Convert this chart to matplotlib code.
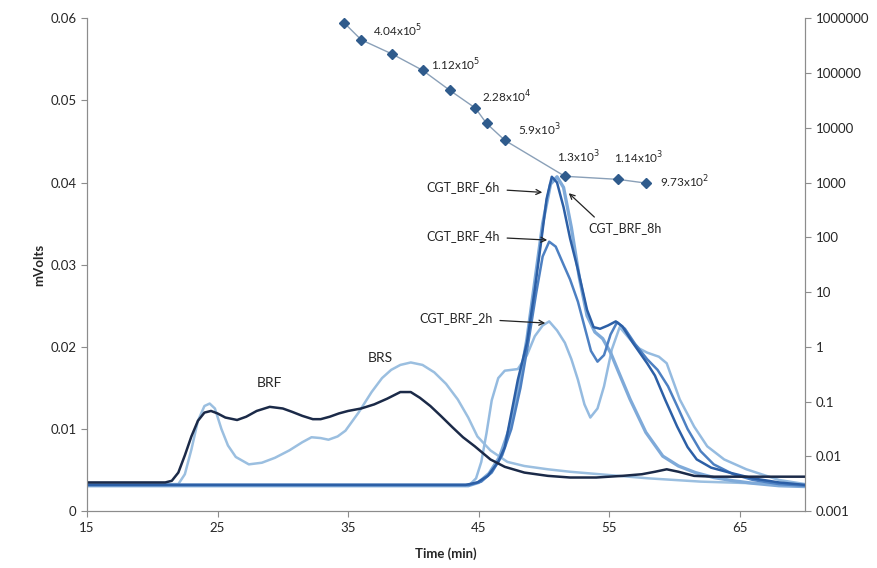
import matplotlib
matplotlib.use("Agg")
import matplotlib.pyplot as plt
from matplotlib.ticker import FixedLocator, FixedFormatter, NullLocator

plt.rcParams['font.family'] = ['Lato', 'DejaVu Sans']

# ---------------- data ----------------
brf_t = [15, 21, 21.5, 22, 22.5, 23, 23.5, 24, 24.5, 25, 25.6, 26.5, 27.2, 28, 29, 30, 30.7, 31.5,
         32.3, 32.9, 33.6, 34.3, 35, 36, 37, 38, 39, 39.8, 40.5, 41.3, 42.1, 43, 43.8, 44.7, 45.9,
         47, 48.5, 50.3, 52, 54, 56, 57.5, 58.5, 59.4, 60.3, 61.5, 63, 65, 67, 70]
brf_v = [0.0035, 0.0035, 0.0037, 0.0047, 0.0068, 0.0091, 0.0110, 0.0120, 0.0122, 0.0119, 0.0114,
         0.0111, 0.0115, 0.0122, 0.0127, 0.0125, 0.0121, 0.0116, 0.0112, 0.0112, 0.0115, 0.0119,
         0.0122, 0.0125, 0.0130, 0.0137, 0.0145, 0.0145, 0.0138, 0.0128, 0.0116, 0.0102, 0.0090,
         0.0079, 0.0063, 0.0054, 0.0047, 0.0043, 0.0041, 0.0041, 0.0043, 0.0045, 0.0048, 0.0051,
         0.0048, 0.0043, 0.0042, 0.0042, 0.0042, 0.0042]

brs_t = [15, 22, 22.5, 23, 23.5, 24, 24.4, 24.8, 25.3, 25.8, 26.4, 27.4, 28.4, 29.4, 30.5, 31.5,
         32.2, 32.9, 33.5, 34.2, 34.8, 35.8, 36.8, 37.6, 38.3, 39.0, 39.8, 40.7, 41.6, 42.5, 43.4,
         44.2, 44.9, 45.9, 47.2, 48.5, 50.3, 52, 55, 58, 62, 66, 70]
brs_v = [0.0033, 0.0033, 0.0045, 0.0075, 0.0110, 0.0128, 0.0131, 0.0125, 0.0100, 0.0080, 0.0066,
         0.0057, 0.0059, 0.0065, 0.0074, 0.0084, 0.0090, 0.0089, 0.0087, 0.0091, 0.0098, 0.0120,
         0.0145, 0.0162, 0.0172, 0.0178, 0.0181, 0.0178, 0.0169, 0.0155, 0.0136, 0.0114, 0.0091,
         0.0074, 0.0060, 0.0055, 0.0051, 0.0048, 0.0044, 0.0040, 0.0036, 0.0034, 0.0032]

h2_t = [15, 44.3, 44.8, 45.2, 45.6, 46.0, 46.5, 47, 48, 48.7, 49.3, 49.9, 50.4, 51.0, 51.6, 52.1,
        52.6, 53.1, 53.55, 54.1, 54.6, 55.2, 55.8, 56.6, 57.3, 57.9, 58.8, 59.4, 60.4, 61.5, 62.5,
        63.8, 65.5, 68, 70]
h2_v = [0.0032, 0.0032, 0.0040, 0.0060, 0.0095, 0.0135, 0.0162, 0.0171, 0.0173, 0.0190, 0.0213,
        0.0226, 0.0231, 0.0220, 0.0205, 0.0185, 0.0160, 0.0130, 0.0114, 0.0125, 0.0152, 0.0197,
        0.0224, 0.0209, 0.0198, 0.0193, 0.0188, 0.0180, 0.0136, 0.0103, 0.0079, 0.0063, 0.0051,
        0.0038, 0.0033]

h4_t = [15, 44.3, 45.2, 46, 46.8, 47.5, 48.2, 48.8, 49.4, 49.9, 50.4, 50.9, 51.5, 52, 52.6, 53.1,
        53.6, 54.1, 54.6, 55.1, 55.6, 56.2, 57, 57.9, 58.7, 59.5, 60.2, 61, 62, 63, 64.5, 66, 68, 70]
h4_v = [0.0032, 0.0032, 0.0036, 0.0047, 0.0068, 0.0100, 0.0150, 0.0205, 0.0265, 0.0310, 0.0328,
        0.0322, 0.0300, 0.0282, 0.0255, 0.0225, 0.0195, 0.0182, 0.0190, 0.0215, 0.0230, 0.0222,
        0.0203, 0.0185, 0.0172, 0.0152, 0.0128, 0.0100, 0.0073, 0.0057, 0.0045, 0.0038, 0.0033,
        0.0031]

h6_t = [15, 44.0, 44.9, 45.7, 46.5, 47, 48, 48.7, 49.3, 49.8, 50.2, 50.6, 51.0, 51.5, 52, 52.6,
        53.3, 53.8, 54.3, 54.9, 55.5, 56.0, 56.8, 57.9, 58.5, 59.3, 60.2, 61.0, 61.7, 62.8, 64.2,
        66, 68, 70]
h6_v = [0.0032, 0.0032, 0.0035, 0.0043, 0.0060, 0.0078, 0.0160, 0.0205, 0.0270, 0.0330, 0.0380,
        0.0407, 0.0400, 0.0370, 0.0332, 0.0294, 0.0245, 0.0224, 0.0222, 0.0226, 0.0231, 0.0225,
        0.0205, 0.0180, 0.0165, 0.0135, 0.0103, 0.0078, 0.0063, 0.0053, 0.0047, 0.0040, 0.0035,
        0.0032]

h8_t = [15, 44.2, 45.0, 45.8, 46.6, 47.3, 48.0, 48.7, 49.3, 49.9, 50.5, 51.0, 51.5, 52.1, 52.7,
        53.3, 53.9, 54.5, 55.1, 55.7, 56.6, 57.8, 59.1, 60.3, 61.6, 63, 64.5, 66, 68, 70]
h8_v = [0.0031, 0.0031, 0.0035, 0.0046, 0.0066, 0.0098, 0.0145, 0.0210, 0.0280, 0.0350, 0.0398,
        0.0407, 0.0394, 0.0345, 0.0285, 0.0238, 0.0218, 0.0210, 0.0193, 0.0170, 0.0136, 0.0096,
        0.0067, 0.0055, 0.0047, 0.0041, 0.0037, 0.0034, 0.0031, 0.0030]

cal_t = [34.7, 36.0, 38.4, 40.7, 42.8, 44.75, 45.6, 47.0, 51.6, 55.7, 57.85]
cal_v = [8.2e5, 4.04e5, 2.2e5, 1.12e5, 4.8e4, 2.28e4, 1.2e4, 5.9e3, 1.3e3, 1.14e3, 9.73e2]
cal_labels = {1: r"4.04x10$^{5}$", 3: r"1.12x10$^{5}$", 5: r"2.28x10$^{4}$",
              7: r"5.9x10$^{3}$", 8: r"1.3x10$^{3}$", 9: r"1.14x10$^{3}$", 10: r"9.73x10$^{2}$"}

x_ticks = [15, 25, 35, 45, 55, 65]
y_ticks = [0, 0.01, 0.02, 0.03, 0.04, 0.05, 0.06]
y_tick_labels = ["0", "0.01", "0.02", "0.03", "0.04", "0.05", "0.06"]
y2_ticks = [1e-3, 1e-2, 1e-1, 1, 10, 100, 1000, 1e4, 1e5, 1e6]
y2_tick_labels = ["0.001", "0.01", "0.1", "1", "10", "100", "1000", "10000", "100000", "1000000"]

# ---------------- figure ----------------
fig = plt.figure(figsize=(8.78, 5.68), dpi=100)
ax = fig.add_axes([0.099, 0.100, 0.818, 0.868])
ax2 = ax.twinx()

lw = 1.8
ax.plot(brs_t, brs_v, color="#9bbfe0", lw=lw, zorder=2)
ax.plot(h2_t, h2_v, color="#95bbe0", lw=lw, zorder=2)
ax.plot(h8_t, h8_v, color="#7faad9", lw=2.4, zorder=2)
ax.plot(h4_t, h4_v, color="#4d80c2", lw=lw, zorder=3)
ax.plot(h6_t, h6_v, color="#2c5fa6", lw=lw, zorder=3)
ax.plot(brf_t, brf_v, color="#1b2a48", lw=lw, zorder=3)

ax.set_xlim(15, 70)
ax.set_ylim(0, 0.06)
ax.xaxis.set_major_locator(FixedLocator(x_ticks))
ax.yaxis.set_major_locator(FixedLocator(y_ticks))
ax.yaxis.set_major_formatter(FixedFormatter(y_tick_labels))

ax2.set_yscale("log")
ax2.set_ylim(1e-3, 1e6)
ax2.yaxis.set_major_locator(FixedLocator(y2_ticks))
ax2.yaxis.set_major_formatter(FixedFormatter(y2_tick_labels))
ax2.yaxis.set_minor_locator(NullLocator())

ax2.plot(cal_t, cal_v, color="#8aa0b8", lw=1.0, marker="D", markersize=5,
         markerfacecolor="#2f5b8c", markeredgecolor="#2f5b8c", zorder=5)

offs = {1: (12, 9), 3: (8, 6), 5: (7, 11), 7: (13, 11), 8: (-8, 20), 9: (-4, 22), 10: (14, 1)}
for i, lab in cal_labels.items():
    ax2.annotate(lab, (cal_t[i], cal_v[i]), xytext=offs[i], textcoords="offset pixels",
                 ha="left", va="center", fontsize=8.5, color="#262626")

spine_c = "#8c8c8c"
for a in (ax, ax2):
    a.spines["top"].set_visible(False)
    for s in ("left", "right", "bottom"):
        a.spines[s].set_color(spine_c)
ax.tick_params(axis="both", colors=spine_c, labelcolor="#262626", labelsize=9.5, length=4)
ax2.tick_params(axis="y", colors=spine_c, labelcolor="#262626", labelsize=9.5, length=4)

ax.set_xlabel("Time (min)", fontsize=9.5, fontweight="bold", color="#262626", labelpad=10)
ax.set_ylabel("mVolts", fontsize=9.5, fontweight="bold", color="#262626", labelpad=4)

# annotations
ap = dict(arrowstyle="->", color="#222222", lw=0.9, shrinkA=3, shrinkB=0)
ax.annotate("CGT_BRF_6h", xy=(49.87, 0.0388), xytext=(46.65, 0.0394), ha="right", va="center",
            fontsize=9, color="#262626", arrowprops=ap)
ax.annotate("CGT_BRF_4h", xy=(50.25, 0.0330), xytext=(46.65, 0.0335), ha="right", va="center",
            fontsize=9, color="#262626", arrowprops=ap)
ax.annotate("CGT_BRF_2h", xy=(50.1, 0.0229), xytext=(46.1, 0.0235), ha="right", va="center",
            fontsize=9, color="#262626", arrowprops=ap)
ax.annotate("CGT_BRF_8h", xy=(51.9, 0.0387), xytext=(53.4, 0.0345), ha="left", va="center",
            fontsize=9, color="#262626",
            arrowprops=dict(arrowstyle="->", color="#222222", lw=0.9, shrinkA=2, shrinkB=0,
                            relpos=(0.15, 1.0)))
ax.text(29.0, 0.0156, "BRF", fontsize=10, color="#262626", ha="center", va="center")
ax.text(37.45, 0.0187, "BRS", fontsize=10, color="#262626", ha="center", va="center")

fig.savefig("out.png", dpi=100)
